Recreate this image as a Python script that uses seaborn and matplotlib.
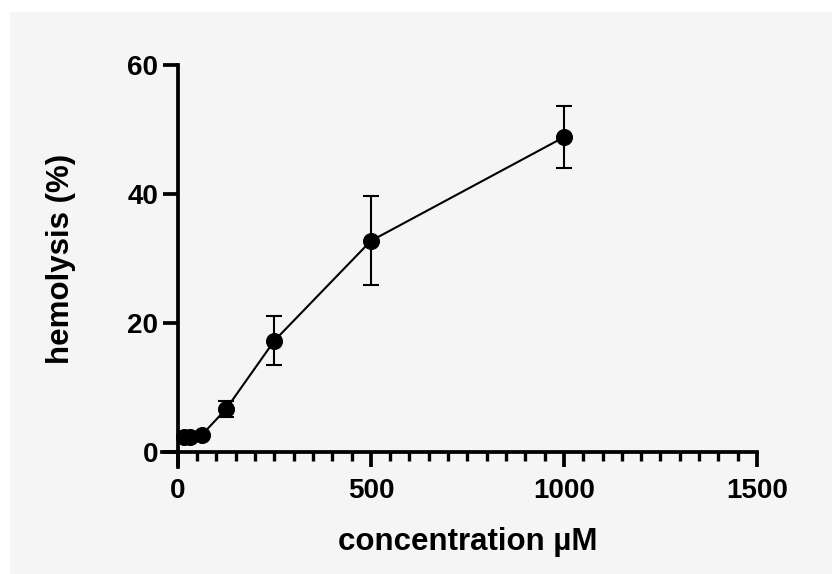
import numpy as np
import pandas as pd
import matplotlib
matplotlib.use("Agg")
import matplotlib.pyplot as plt
from matplotlib.patches import Rectangle
from matplotlib.ticker import MultipleLocator
import seaborn as sns

# data
concentration = [15.6, 31.25, 62.5, 125, 250, 500, 1000]
hemolysis = [2.2, 2.2, 2.6, 6.6, 17.2, 32.7, 48.8]
sd = [0.3, 0.3, 0.3, 1.2, 3.8, 6.9, 4.8]

df = pd.DataFrame({"conc": concentration, "hemo": hemolysis, "sd": sd})

sns.set_theme(style="ticks")
plt.rcParams["font.family"] = ["Liberation Sans", "DejaVu Sans"]
plt.rcParams["font.weight"] = "bold"

bg = "#f5f5f5"
fig = plt.figure(figsize=(8.32, 5.74), dpi=100, facecolor="white")
# light grey panel with a thin white margin on top / left
fig.patches.append(Rectangle((10 / 832, 0), 1, 1 - 12 / 574,
                             transform=fig.transFigure, facecolor=bg,
                             edgecolor="none", zorder=-10))
ax = fig.add_axes([162 / 832, 107 / 574, 595 / 832, 402 / 574])
ax.set_facecolor(bg)

# error bars
ax.errorbar(df["conc"], df["hemo"], yerr=df["sd"], fmt="none",
            ecolor="black", elinewidth=1.5, capsize=5.8, capthick=1.5, zorder=2)
# mean line + markers
sns.lineplot(data=df, x="conc", y="hemo", ax=ax, color="black",
             linewidth=1.5, marker="o", markersize=11.5,
             markeredgecolor="black", zorder=3)

ax.set_xlim(-41, 1500)
ax.set_ylim(-2.4, 60)
ax.spines["left"].set_position(("data", 0))
ax.spines["bottom"].set_position(("data", 0))
for s in ["top", "right"]:
    ax.spines[s].set_visible(False)
for s in ["left", "bottom"]:
    ax.spines[s].set_linewidth(2.7)
    ax.spines[s].set_color("black")

ax.xaxis.set_major_locator(MultipleLocator(500))
ax.xaxis.set_minor_locator(MultipleLocator(50))
ax.yaxis.set_major_locator(MultipleLocator(20))
ax.tick_params(axis="both", which="major", length=11, width=2.7,
               labelsize=20, color="black", labelcolor="black")
ax.tick_params(axis="x", which="major", pad=8)
ax.tick_params(axis="y", which="major", pad=3)
ax.tick_params(axis="x", which="minor", length=6.5, width=2.4, color="black")
for lab in ax.get_xticklabels() + ax.get_yticklabels():
    lab.set_fontweight("bold")

ax.set_xlabel("concentration µM", fontsize=22.5, fontweight="bold", color="black")
ax.set_ylabel("hemolysis (%)", fontsize=22.5, fontweight="bold", color="black")
ax.xaxis.set_label_coords(0.514, -0.15)
ax.yaxis.set_label_coords(-0.145, 0.517)

fig.savefig("out.png", dpi=100, facecolor="white")
